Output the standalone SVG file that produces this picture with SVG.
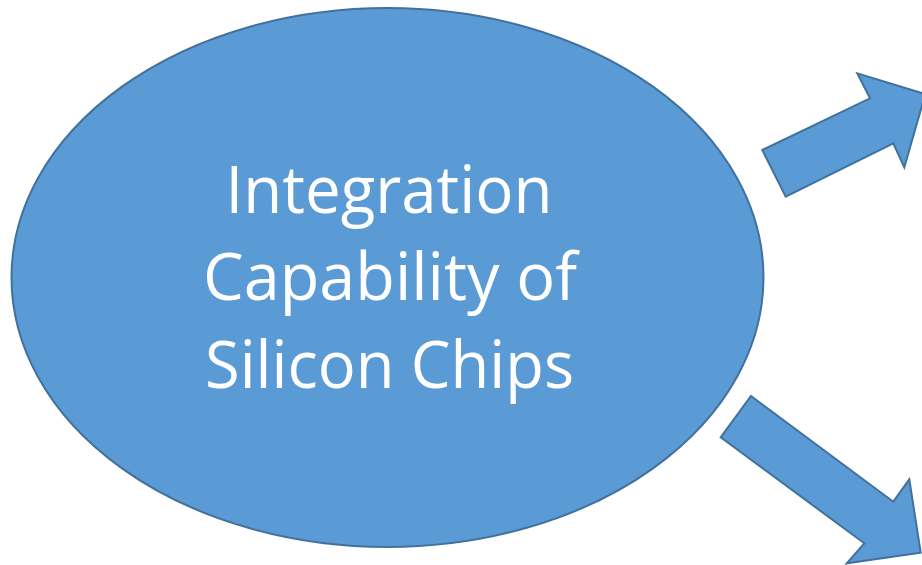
<svg xmlns="http://www.w3.org/2000/svg" width="922" height="565" viewBox="0 0 922 565">
  <style>
    .shape { fill: #5B9BD5; stroke: #41719C; stroke-width: 2; stroke-linejoin: miter; }
    .label { fill: #FFFFFF; font-family: "Open Sans", "Noto Sans", "Liberation Sans", sans-serif; font-size: 65px; text-anchor: middle; }
  </style>
  <rect width="922" height="565" fill="#FFFFFF"/>

  <g id="node-integration">
    <ellipse class="shape" cx="387.5" cy="277.5" rx="376" ry="269.5"/>
    <text class="label" x="389" y="213" textLength="327" lengthAdjust="spacingAndGlyphs">Integration</text>
    <text class="label" x="390" y="300" textLength="374" lengthAdjust="spacingAndGlyphs">Capability of</text>
    <text class="label" x="389.5" y="387.5" textLength="369" lengthAdjust="spacingAndGlyphs">Silicon Chips</text>
  </g>

  <g id="connectors">
    <!-- block arrow pointing up-right -->
    <polygon class="shape" points="762.3,150 870,98.3 857.3,73.3 925.3,94.1 904.3,167.3 893.3,143.3 785.7,196.7"/>
    <!-- block arrow pointing down-right -->
    <polygon class="shape" points="751,396 893.3,501.7 909.3,479.3 920.7,552.7 846.7,563.3 864.3,543.3 720.7,437.3"/>
  </g>
</svg>
